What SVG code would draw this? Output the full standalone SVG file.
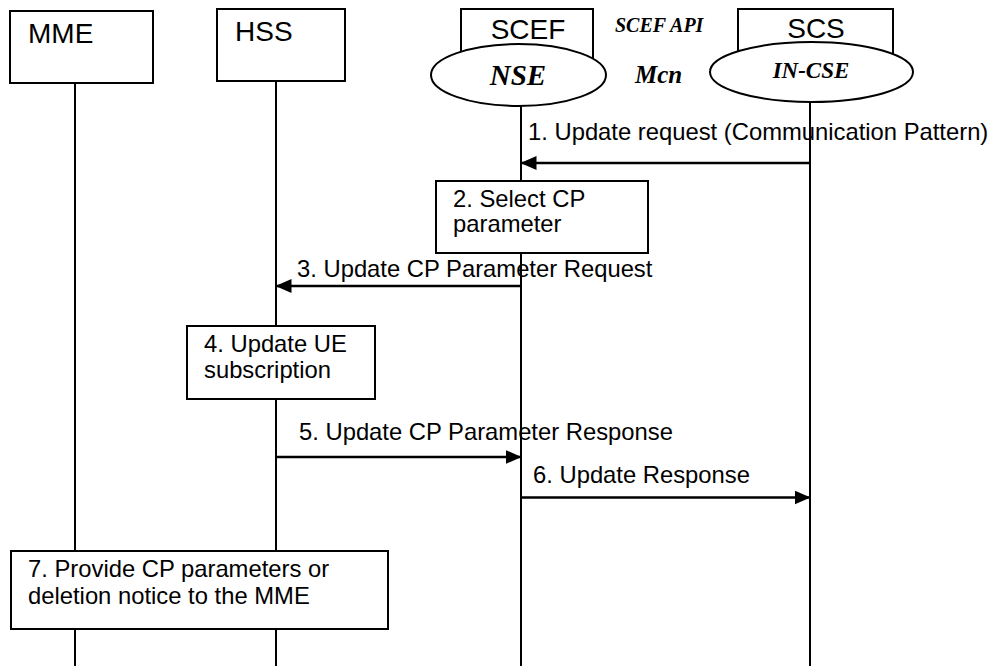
<svg xmlns="http://www.w3.org/2000/svg" width="991" height="666" viewBox="0 0 991 666">
<style>
.box{fill:#fff;stroke:#000;stroke-width:2}
.life{stroke:#000;stroke-width:2;fill:none}
.msg{stroke:#000;stroke-width:2.5;fill:none}
.t{font-family:"Liberation Sans",Arial,sans-serif;font-size:23.8px;fill:#000}
.n{font-family:"Liberation Sans",Arial,sans-serif;font-size:28px;fill:#000}
.bi{font-family:"Liberation Serif","Times New Roman",serif;font-style:italic;font-weight:bold;fill:#000}
</style>
<defs>
<marker id="ah" markerWidth="16" markerHeight="14" refX="15.5" refY="7" orient="auto" markerUnits="userSpaceOnUse">
<path d="M0,0 L16,7 L0,14 Z" fill="#000"/>
</marker>
</defs>
<g id="lifelines">
<line class="life" x1="75" y1="83" x2="75" y2="666"/>
<line class="life" x1="276" y1="81" x2="276" y2="666"/>
<line class="life" x1="521" y1="106" x2="521" y2="666"/>
<line class="life" x1="810" y1="102" x2="810" y2="666"/>
</g>
<g id="MME">
<rect class="box" x="10" y="11" width="143" height="72"/>
<text class="n" x="28" y="43">MME</text>
</g>
<g id="HSS">
<rect class="box" x="217" y="9" width="128" height="72"/>
<text class="n" x="235" y="41">HSS</text>
</g>
<g id="SCEF">
<rect class="box" x="461" y="9" width="132" height="60"/>
<text class="n" x="528" y="39" text-anchor="middle">SCEF</text>
<ellipse class="box" cx="518.5" cy="75" rx="87.5" ry="31"/>
<text class="bi" x="518" y="85" font-size="29" text-anchor="middle">NSE</text>
</g>
<g id="SCS">
<rect class="box" x="738" y="9" width="155" height="60"/>
<text class="n" x="816" y="38" text-anchor="middle">SCS</text>
<ellipse class="box" cx="811.5" cy="72" rx="101.5" ry="30"/>
<text class="bi" x="811" y="78" font-size="23" text-anchor="middle">IN-CSE</text>
</g>
<g id="interface-labels">
<text class="bi" x="615" y="31.5" font-size="20">SCEF API</text>
<text class="bi" x="635" y="83" font-size="25">Mcn</text>
</g>
<g id="connectors">
<line class="msg" x1="810" y1="163" x2="521" y2="163" marker-end="url(#ah)"/>
<line class="msg" x1="521" y1="286" x2="276" y2="286" marker-end="url(#ah)"/>
<line class="msg" x1="276" y1="457" x2="521" y2="457" marker-end="url(#ah)"/>
<line class="msg" x1="521" y1="497.5" x2="810" y2="497.5" marker-end="url(#ah)"/>
</g>
<g id="labels">
<text class="t" x="528" y="140">1. Update request (Communication Pattern)</text>
<text class="t" x="297" y="277">3. Update CP Parameter Request</text>
<text class="t" x="299" y="440">5. Update CP Parameter Response</text>
<text class="t" x="533" y="483">6. Update Response</text>
</g>
<g id="step2">
<rect class="box" x="436" y="181" width="212" height="72"/>
<text class="t" x="453" y="207">2. Select CP</text>
<text class="t" x="453" y="232">parameter</text>
</g>
<g id="step4">
<rect class="box" x="187" y="326" width="188" height="73"/>
<text class="t" x="204" y="352">4. Update UE</text>
<text class="t" x="204" y="378">subscription</text>
</g>
<g id="step7">
<rect class="box" x="11" y="551" width="377" height="78"/>
<text class="t" x="28" y="577">7. Provide CP parameters or</text>
<text class="t" x="28" y="604">deletion notice to the MME</text>
</g>
</svg>
